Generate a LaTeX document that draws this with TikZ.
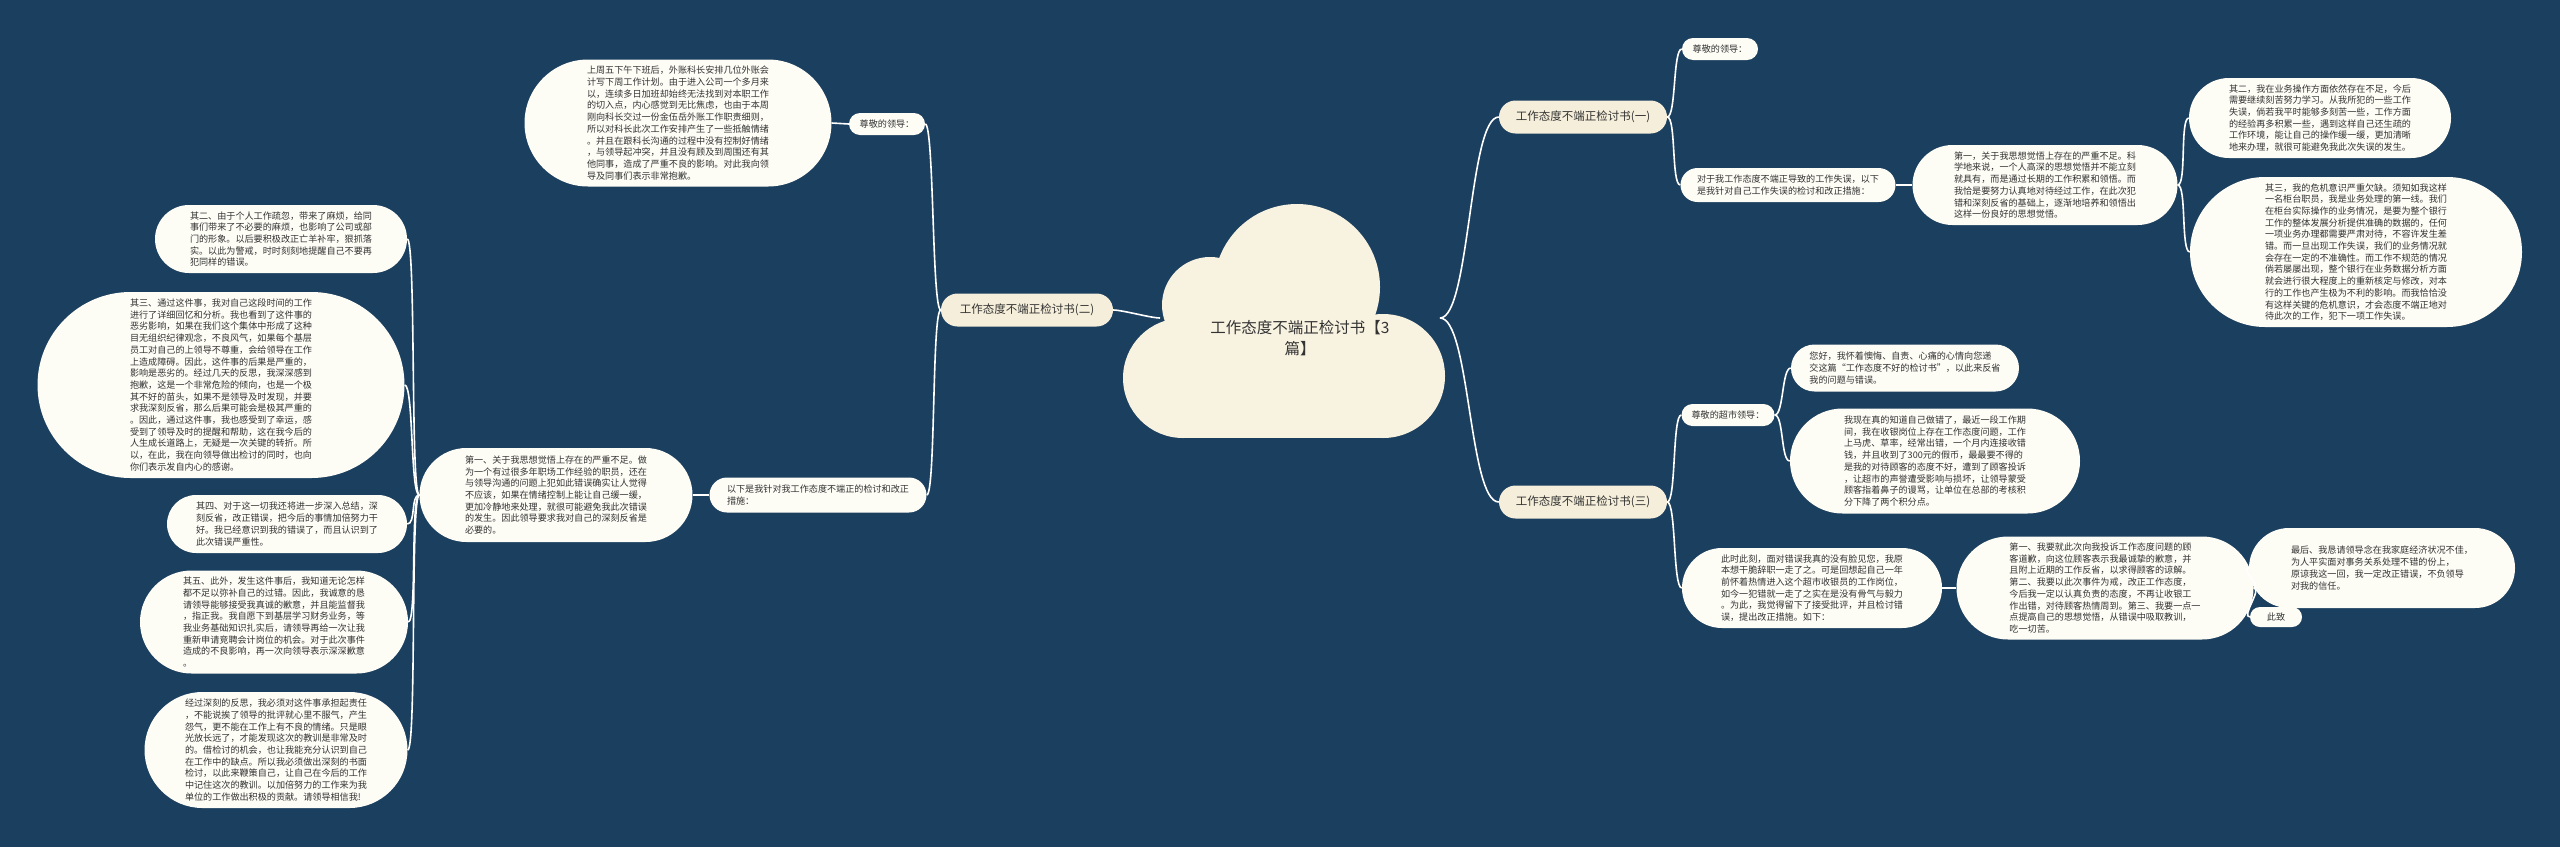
\documentclass[tikz,border=0pt]{standalone}
\usepackage{fontspec}
\setmainfont{Noto Sans CJK SC}
\usetikzlibrary{shapes.misc}

\definecolor{bgnavy}{HTML}{1B3F5F}
\definecolor{leafcol}{HTML}{FDFCF5}
\definecolor{branchcol}{HTML}{F5EEDA}
\definecolor{cloudcol}{HTML}{F8F2E1}
\definecolor{txtcol}{HTML}{333333}

\tikzset{
  leaf/.style={rounded rectangle, fill=leafcol, text=txtcol, inner xsep=0pt, inner ysep=3pt,
    align=left, font=\fontsize{9.1}{11.7}\selectfont},
  branch/.style={leaf, fill=branchcol, font=\fontsize{11.5}{14}\selectfont},
  sz/.style 2 args={minimum width=#1pt, minimum height=#2pt},
  linkR/.style={draw=white, line width=1.6pt, to path={.. controls +(#1,0) and +(-#1,0) .. (\tikztotarget)}},
  linkR/.default=9,
  linkL/.style={draw=white, line width=1.6pt, to path={.. controls +(-#1,0) and +(#1,0) .. (\tikztotarget)}},
  linkL/.default=9,
}

\begin{document}
\begin{tikzpicture}[x=1pt, y=-1pt]

    % 背景
    \fill[bgnavy] (0,0) rectangle (2560,847);
    \useasboundingbox (0,0) rectangle (2560,847);

    % 1. 中心云朵
    \fill[cloudcol] (1297,287) circle (83);
    \fill[cloudcol] (1210,305) circle (48);
    \fill[cloudcol] (1183,378) circle (60);
    \fill[cloudcol] (1383,376) circle (62);
    \fill[cloudcol] (1183,318) rectangle (1383,438);
    \node[text=txtcol, align=center, font=\fontsize{15.5}{21}\selectfont] (root) at (1300,338)
        {工作态度不端正检讨书【3\\篇】};
    \coordinate (cloudL) at (1160,318);
    \coordinate (cloudR) at (1440,318);

    % 2. 三个分支
    \node[branch, sz={168}{33}] (b1) at (1583,117) {工作态度不端正检讨书(一)};
    \node[branch, sz={172}{33}] (b2) at (1027,310) {工作态度不端正检讨书(二)};
    \node[branch, sz={168}{33}] (b3) at (1583,502) {工作态度不端正检讨书(三)};

    % 3. 分支(一)
    \node[leaf, sz={76}{22}] (rA) at (1720,49) {尊敬的领导：};
    \node[leaf, sz={215}{34}] (rB) at (1788,185) {对于我工作态度不端正导致的工作失误，以下\\是我针对自己工作失误的检讨和改正措施：};
    \node[leaf, sz={265}{80}] (rC) at (2045,185) {第一，关于我思想觉悟上存在的严重不足。科\\学地来说，一个人高深的思想觉悟并不能立刻\\就具有，而是通过长期的工作积累和领悟。而\\我恰是要努力认真地对待经过工作，在此次犯\\错和深刻反省的基础上，逐渐地培养和领悟出\\这样一份良好的思想觉悟。};
    \node[leaf, sz={262}{80}] (rD) at (2320,118) {其二，我在业务操作方面依然存在不足，今后\\需要继续刻苦努力学习。从我所犯的一些工作\\失误，倘若我平时能够多刻苦一些，工作方面\\的经验再多积累一些，遇到这样自己还生疏的\\工作环境，能让自己的操作缓一缓，更加清晰\\地来办理，就很可能避免我此次失误的发生。};
    \node[leaf, sz={332}{150}] (rE) at (2356,252) {其三，我的危机意识严重欠缺。须知如我这样\\一名柜台职员，我是业务处理的第一线。我们\\在柜台实际操作的业务情况，是要为整个银行\\工作的整体发展分析提供准确的数据的，任何\\一项业务办理都需要严肃对待，不容许发生差\\错。而一旦出现工作失误，我们的业务情况就\\会存在一定的不准确性。而工作不规范的情况\\倘若屡屡出现，整个银行在业务数据分析方面\\就会进行很大程度上的重新核定与修改，对本\\行的工作也产生极为不利的影响。而我恰恰没\\有这样关键的危机意识，才会态度不端正地对\\待此次的工作，犯下一项工作失误。};

    % 4. 分支(三)
    \node[leaf, sz={93}{22}] (rF) at (1728,415) {尊敬的超市领导：};
    \node[leaf, sz={228}{47}] (rG) at (1905,368) {您好，我怀着懊悔、自责、心痛的心情向您递\\交这篇“工作态度不好的检讨书”，以此来反省\\我的问题与错误。};
    \node[leaf, sz={290}{105}] (rH) at (1935,461) {我现在真的知道自己做错了，最近一段工作期\\间，我在收银岗位上存在工作态度问题，工作\\上马虎、草率，经常出错，一个月内连接收错\\钱，并且收到了300元的假币，最最要不得的\\是我的对待顾客的态度不好，遭到了顾客投诉\\，让超市的声誉遭受影响与损坏，让领导蒙受\\顾客指着鼻子的谩骂，让单位在总部的考核积\\分下降了两个积分点。};
    \node[leaf, sz={260}{80}] (rI) at (1812,588) {此时此刻，面对错误我真的没有脸见您，我原\\本想干脆辞职一走了之。可是回想起自己一年\\前怀着热情进入这个超市收银员的工作岗位，\\如今一犯错就一走了之实在是没有骨气与毅力\\。为此，我觉得留下了接受批评，并且检讨错\\误，提出改正措施。如下：};
    \node[leaf, sz={297}{103}] (rJ) at (2105,588) {第一、我要就此次向我投诉工作态度问题的顾\\客道歉，向这位顾客表示我最诚挚的歉意，并\\且附上近期的工作反省，以求得顾客的谅解。\\第二、我要以此次事件为戒，改正工作态度，\\今后我一定以认真负责的态度，不再让收银工\\作出错，对待顾客热情周到。第三、我要一点一\\点提高自己的思想觉悟，从错误中吸取教训，\\吃一切苦。};
    \node[leaf, sz={266}{80}] (rK) at (2382,568) {最后、我恳请领导念在我家庭经济状况不佳，\\为人平实面对事务关系处理不错的份上，\\原谅我这一回，我一定改正错误，不负领导\\对我的信任。};
    \node[leaf, sz={52}{20}] (rL) at (2276,617) {此致};

    % 5. 分支(二)
    \node[leaf, sz={76}{22}] (lA) at (887,124) {尊敬的领导：};
    \node[leaf, sz={307}{127}] (lE) at (678,123) {上周五下午下班后，外账科长安排几位外账会\\计写下周工作计划。由于进入公司一个多月来\\以，连续多日加班却始终无法找到对本职工作\\的切入点，内心感觉到无比焦虑，也由于本周\\刚向科长交过一份金伍岳外账工作职责细则，\\所以对科长此次工作安排产生了一些抵触情绪\\。并且在跟科长沟通的过程中没有控制好情绪\\，与领导起冲突，并且没有顾及到周围还有其\\他同事，造成了严重不良的影响。对此我向领\\导及同事们表示非常抱歉。};
    \node[leaf, sz={217}{35}] (lB) at (818,495) {以下是我针对我工作态度不端正的检讨和改正\\措施：};
    \node[leaf, sz={273}{94}] (l1) at (556,495) {第一、关于我思想觉悟上存在的严重不足。做\\为一个有过很多年职场工作经验的职员，还在\\与领导沟通的问题上犯如此错误确实让人觉得\\不应该，如果在情绪控制上能让自己缓一缓，\\更加冷静地来处理，就很可能避免我此次错误\\的发生。因此领导要求我对自己的深刻反省是\\必要的。};
    \node[leaf, sz={252}{68}] (l2) at (281,239) {其二、由于个人工作疏忽，带来了麻烦，给同\\事们带来了不必要的麻烦，也影响了公司或部\\门的形象。以后要积极改正亡羊补牢，狠抓落\\实。以此为警戒，时时刻刻地提醒自己不要再\\犯同样的错误。};
    \node[leaf, sz={367}{186}] (l3) at (221,385) {其三、通过这件事，我对自己这段时间的工作\\进行了详细回忆和分析。我也看到了这件事的\\恶劣影响，如果在我们这个集体中形成了这种\\目无组织纪律观念，不良风气，如果每个基层\\员工对自己的上领导不尊重，会给领导在工作\\上造成障碍。因此，这件事的后果是严重的，\\影响是恶劣的。经过几天的反思，我深深感到\\抱歉，这是一个非常危险的倾向，也是一个极\\其不好的苗头，如果不是领导及时发现，并要\\求我深刻反省，那么后果可能会是极其严重的\\。因此，通过这件事，我也感受到了幸运，感\\受到了领导及时的提醒和帮助，这在我今后的\\人生成长道路上，无疑是一次关键的转折。所\\以，在此，我在向领导做出检讨的同时，也向\\你们表示发自内心的感谢。};
    \node[leaf, sz={240}{58}] (l4) at (287,524) {其四、对于这一切我还将进一步深入总结，深\\刻反省，改正错误，把今后的事情加倍努力干\\好。我已经意识到我的错误了，而且认识到了\\此次错误严重性。};
    \node[leaf, sz={268}{103}] (l5) at (274,622) {其五、此外，发生这件事后，我知道无论怎样\\都不足以弥补自己的过错。因此，我诚意的恳\\请领导能够接受我真诚的歉意，并且能监督我\\，指正我。我自愿下到基层学习财务业务，等\\我业务基础知识扎实后，请领导再给一次让我\\重新申请竞聘会计岗位的机会。对于此次事件\\造成的不良影响，再一次向领导表示深深歉意\\。};
    \node[leaf, sz={263}{116}] (l6) at (276,750) {经过深刻的反思，我必须对这件事承担起责任\\，不能说挨了领导的批评就心里不服气，产生\\怨气，更不能在工作上有不良的情绪。只是眼\\光放长远了，才能发现这次的教训是非常及时\\的。借检讨的机会，也让我能充分认识到自己\\在工作中的缺点。所以我必须做出深刻的书面\\检讨，以此来鞭策自己，让自己在今后的工作\\中记住这次的教训。以加倍努力的工作来为我\\单位的工作做出积极的贡献。请领导相信我!};

    % 6. 连线
    \draw[linkR=30] (cloudR) to (b1.west);
    \draw[linkR=30] (cloudR) to (b3.west);
    \draw[linkL] (cloudL) to (b2.east);

    \draw[linkR] (b1.east) to (rA.west);
    \draw[linkR] (b1.east) to (rB.west);
    \draw[linkR] (rB.east) to (rC.west);
    \draw[linkR] (rC.east) to (rD.west);
    \draw[linkR] (rC.east) to (rE.west);

    \draw[linkR] (b3.east) to (rF.west);
    \draw[linkR] (b3.east) to (rI.west);
    \draw[linkR] (rF.east) to (rG.west);
    \draw[linkR] (rF.east) to (rH.west);
    \draw[linkR] (rI.east) to (rJ.west);
    \draw[linkR] (rJ.east) to (rK.west);
    \draw[linkR] (rJ.east) to (rL.west);

    \draw[linkL] (b2.west) to (lA.east);
    \draw[linkL] (b2.west) to (lB.east);
    \draw[linkL] (lA.west) to (lE.east);
    \draw[linkL] (lB.west) to (l1.east);
    \foreach \n in {l2,l3,l4,l5,l6} {
        \draw[linkL] (l1.west) to (\n.east);
    }
\end{tikzpicture}
\end{document}
